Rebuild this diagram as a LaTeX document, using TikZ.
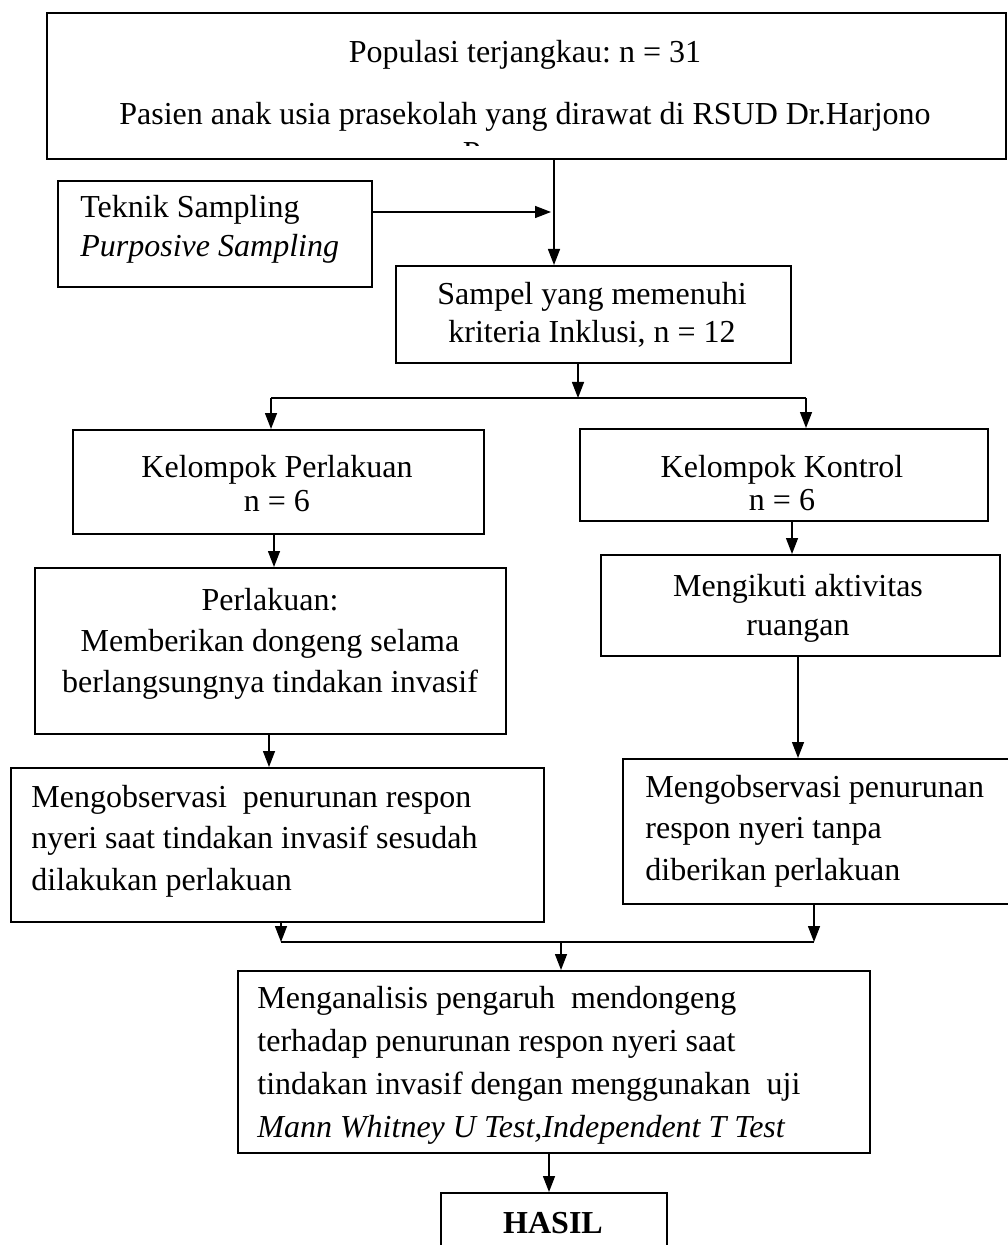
\documentclass[tikz,border=0pt]{standalone}
\usepackage{fontspec}
\setmainfont{Liberation Serif}
\usetikzlibrary{arrows.meta}
\frenchspacing

\tikzset{
    box/.style={draw, line width=0.9pt, inner sep=0pt, anchor=north west},
    txt/.style={font=\fontsize{16}{#1}\selectfont, inner sep=0pt, align=center},
    txt/.default=20.5,
    ltxt/.style={txt=#1, align=left, anchor=base west},
    conn/.style={line width=0.7pt},
    arrow/.style={conn, -{Triangle[length=8pt,width=6pt]}}
}

\begin{document}
\begin{tikzpicture}[x=0.5pt, y=-0.5pt]
        \useasboundingbox (0,0) rectangle (1007,1245);

        %%boxes
        \node[box, minimum width=479.5pt, minimum height=73pt] (top) at (46,12) {};
        \node[box, minimum width=157pt, minimum height=53pt] (teknik) at (57,180) {};
        \node[box, minimum width=197.5pt, minimum height=48.5pt] (sampel) at (395,265) {};
        \node[box, minimum width=205.5pt, minimum height=52pt] (kp) at (72,429) {};
        \node[box, minimum width=204pt, minimum height=46pt] (kk) at (579,428) {};
        \node[box, minimum width=235.5pt, minimum height=83pt] (perl) at (34,567) {};
        \node[box, minimum width=199.5pt, minimum height=50.5pt] (ikut) at (600,554) {};
        \node[box, minimum width=266.5pt, minimum height=77pt] (obsL) at (10,767) {};
        \node[box, minimum width=196.5pt, minimum height=72.5pt] (obsR) at (622,758) {};
        \node[box, minimum width=316pt, minimum height=91pt] (anal) at (237,970) {};
        \node[box, minimum width=113pt, minimum height=36.5pt] (hasil) at (440,1192) {};

        %%texts (anchor base = last line)
        \node[txt=31, anchor=base] (tTop) at (525,125)
            {Populasi terjangkau: n = 31\\Pasien anak usia prasekolah yang dirawat di RSUD Dr.Harjono};
        \begin{scope}
            \clip (46,12) rectangle (1005,146);
            \node[txt, anchor=base] (tCut) at (525,164) {Ponorogo};
        \end{scope}
        \node[ltxt=19.5] (tTeknik) at (80,257) {Teknik Sampling\\\textit{Purposive Sampling}};
        \node[txt=19, anchor=base] (tSampel) at (592,343) {Sampel yang memenuhi\\kriteria Inklusi, n = 12};
        \node[txt=17, anchor=base] (tKp) at (277,511) {Kelompok Perlakuan\\n = 6};
        \node[txt=16.5, anchor=base] (tKk) at (782,510) {Kelompok Kontrol\\n = 6};
        \node[txt=20.5, anchor=base] (tPerl) at (270,692)
            {Perlakuan:\\Memberikan dongeng selama\\berlangsungnya tindakan invasif};
        \node[txt=19.5, anchor=base] (tIkut) at (798,635) {Mengikuti aktivitas\\ruangan};
        \node[ltxt=20.75] (tObsL) at (31,890)
            {Mengobservasi~ penurunan respon\\nyeri saat tindakan invasif sesudah\\dilakukan perlakuan};
        \node[ltxt=20.75] (tObsR) at (645,880)
            {Mengobservasi penurunan\\respon nyeri tanpa\\diberikan perlakuan};
        \node[ltxt=21.5] (tAnal) at (257,1137)
            {Menganalisis pengaruh~ mendongeng\\terhadap penurunan respon nyeri saat\\tindakan invasif dengan menggunakan~ uji\\\textit{Mann Whitney U Test,Independent T Test}};
        \node[txt, anchor=base, font=\fontsize{16}{18}\selectfont\bfseries] (tHasil) at (553,1233) {HASIL};

        %%connector 1
        \coordinate (cA) at (554,0);
        \draw[arrow] (top.south -| cA) -- (sampel.north -| cA);
        \coordinate (cB) at (551,212);
        \draw[arrow] (teknik.east |- cB) -- (cB);

        %%connector 2
        \coordinate (cS) at (578,398);
        \coordinate (cL) at (271,398);
        \coordinate (cR) at (806,398);
        \draw[arrow] (sampel.south -| cS) -- (cS);
        \draw[conn] (cL) -- (cR);
        \draw[arrow] (cL) -- (kp.north -| cL);
        \draw[arrow] (cR) -- (kk.north -| cR);

        %%connector 3
        \coordinate (cC) at (274,0);
        \draw[arrow] (kp.south -| cC) -- (perl.north -| cC);
        \coordinate (cD) at (792,0);
        \draw[arrow] (kk.south -| cD) -- (ikut.north -| cD);
        \coordinate (cE) at (269,0);
        \draw[arrow] (perl.south -| cE) -- (obsL.north -| cE);
        \coordinate (cF) at (798,0);
        \draw[arrow] (ikut.south -| cF) -- (obsR.north -| cF);

        %%connector 4
        \coordinate (cJL) at (281,942);
        \coordinate (cJR) at (814,942);
        \coordinate (cJ) at (561,942);
        \draw[arrow] (obsL.south -| cJL) -- (cJL);
        \draw[arrow] (obsR.south -| cJR) -- (cJR);
        \draw[conn] (cJL) -- (cJR);
        \draw[arrow] (cJ) -- (anal.north -| cJ);
        \coordinate (cK) at (549,0);
        \draw[arrow] (anal.south -| cK) -- (hasil.north -| cK);

    \end{tikzpicture}
\end{document}
